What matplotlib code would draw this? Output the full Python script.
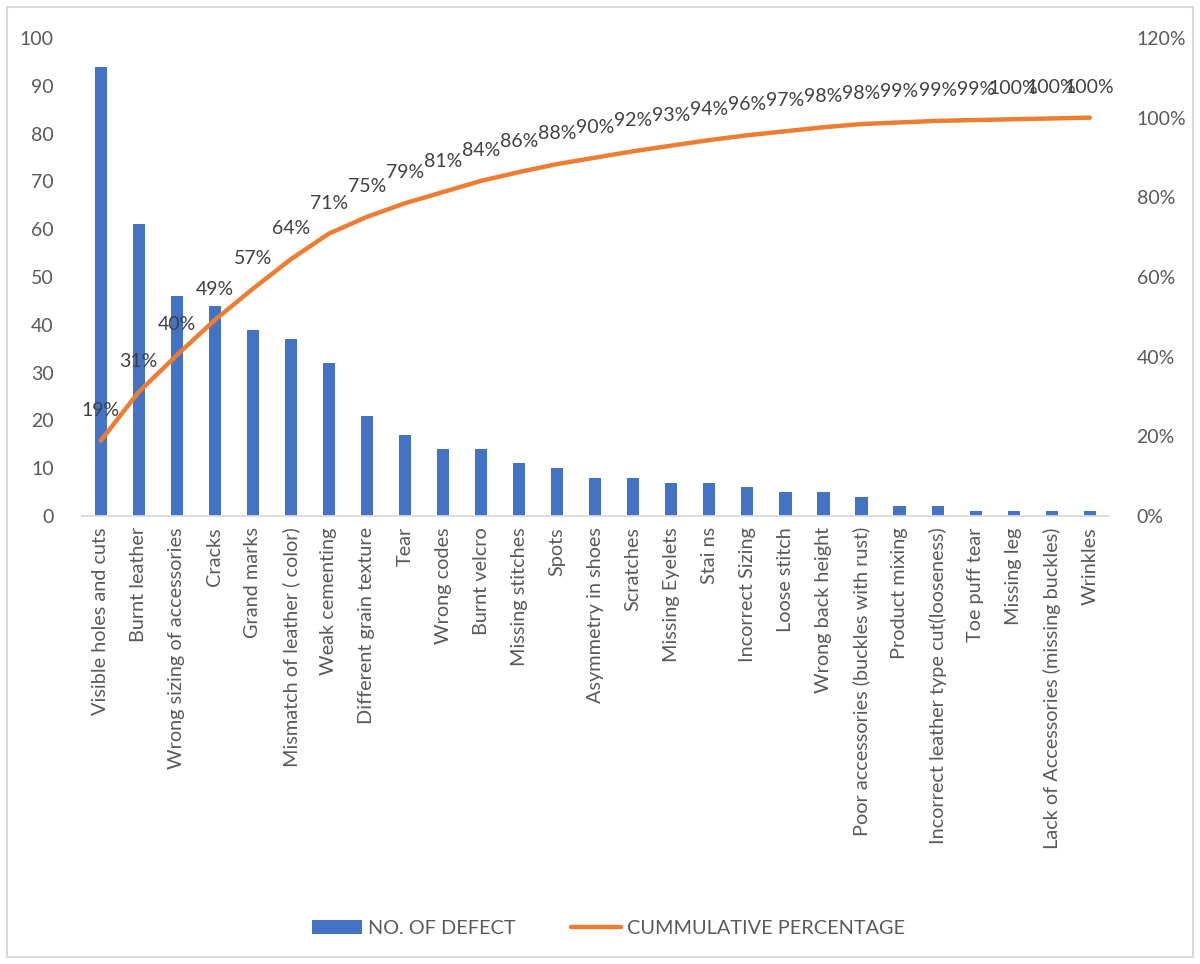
import numpy as np
import matplotlib.pyplot as plt
from matplotlib.patches import Rectangle
from matplotlib.ticker import FuncFormatter

categories = ["Visible holes and cuts", "Burnt leather", "Wrong sizing of accessories", "Cracks",
              "Grand marks", "Mismatch of leather ( color)", "Weak cementing", "Different grain texture",
              "Tear", "Wrong codes", "Burnt velcro", "Missing stitches", "Spots", "Asymmetry in shoes",
              "Scratches", "Missing Eyelets", "Stai ns", "Incorrect Sizing", "Loose stitch",
              "Wrong back height", "Poor accessories (buckles with rust)", "Product mixing",
              "Incorrect leather type cut(looseness)", "Toe puff tear", "Missing leg",
              "Lack of Accessories (missing buckles)", "Wrinkles"]
defects = [94, 61, 46, 44, 39, 37, 32, 21, 17, 14, 14, 11, 10, 8, 8, 7, 7, 6, 5, 5, 4, 2, 2, 1, 1, 1, 1]

cum_pct = np.cumsum(defects) / np.sum(defects)

plt.rcParams['font.family'] = ['Lato', 'DejaVu Sans']
gray = '#595959'
blue = '#4472C4'
orange = '#ED7D31'

fig = plt.figure(figsize=(12, 9.64), dpi=100)
ax = fig.add_axes([0.068, 0.4647, 0.856, 0.4959])
x = np.arange(len(categories))
b = ax.bar(x, defects, width=0.32, color=blue, label='NO. OF DEFECT', zorder=2)
ax.set_xlim(-0.5, len(categories) - 0.5)
ax.set_ylim(0, 100)
ax.set_yticks(range(0, 101, 10))
ax.set_xticks(x)
ax.set_xticklabels(categories, rotation=90, fontsize=14.3, color=gray)
ax.tick_params(axis='both', length=0, labelcolor=gray)
ax.tick_params(axis='y', pad=20, labelsize=14)
ax.tick_params(axis='x', pad=8)
for s in ['top', 'right', 'left']:
    ax.spines[s].set_visible(False)
ax.spines['bottom'].set_color('#d9d9d9')
ax.spines['bottom'].set_linewidth(1.3)

ax2 = ax.twinx()
ln, = ax2.plot(x, cum_pct, color=orange, lw=3.2, solid_capstyle='round', label='CUMMULATIVE PERCENTAGE', zorder=3)
ax2.set_ylim(0, 1.2)
ax2.set_yticks(np.arange(0, 1.21, 0.2))
ax2.yaxis.set_major_formatter(FuncFormatter(lambda v, p: '%d%%' % round(v * 100)))
ax2.tick_params(axis='y', length=0, labelsize=14, labelcolor=gray, pad=20)
for s in ['top', 'right', 'left', 'bottom']:
    ax2.spines[s].set_visible(False)

for xi, p in zip(x, cum_pct):
    ax2.annotate('%d%%' % round(p * 100), (xi, p), xytext=(0, 22), textcoords='offset points',
                 ha='center', va='center', fontsize=14, color='#404040')

fig.legend([b, ln], ['NO. OF DEFECT', 'CUMMULATIVE PERCENTAGE'], loc='center', bbox_to_anchor=(0.507, 0.037),
           ncol=2, frameon=False, fontsize=14.3, labelcolor=gray, handlelength=2.5, handleheight=0.7,
           columnspacing=2.8, handletextpad=0.3)

fig.patches.append(Rectangle((0.006, 0.007), 0.988, 0.986, transform=fig.transFigure,
                             fill=False, edgecolor='#d9d9d9', lw=1.5))

fig.savefig('out.png', dpi=100)
